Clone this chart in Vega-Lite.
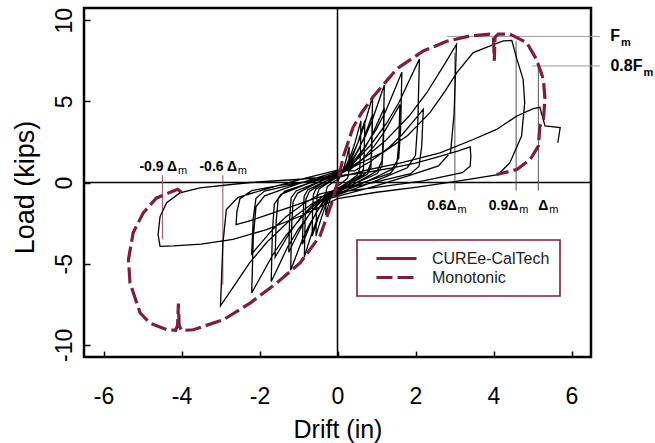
{
  "$schema": "https://vega.github.io/schema/vega-lite/v6.json",
  "width": 507,
  "height": 349,
  "autosize": {"type": "none"},
  "padding": {"left": 84, "top": 8, "right": 64, "bottom": 86},
  "background": "white",
  "config": {
    "view": {"stroke": "black", "strokeWidth": 2.5},
    "font": "Liberation Sans",
    "axis": {
      "grid": false, "domain": false, "ticks": true, "tickSize": -6, "tickColor": "black", "tickWidth": 1.5,
      "labelColor": "black", "labelFont": "Liberation Sans", "labelFontSize": 23,
      "titleFont": "Liberation Sans", "titleFontWeight": "normal", "titleColor": "black",
      "labelExpr": "'' + datum.value", "labelFlush": false, "labelOverlap": false
    }
  },
  "datasets": {
    "hyst": [
      {"x":0,"y":0},
      {"x":0.06,"y":0.35},{"x":0.12,"y":0.66},{"x":0.18,"y":1.06},{"x":0.225,"y":1.43},{"x":0.27,"y":1.89},{"x":0.3,"y":2.2},
      {"x":0.294,"y":1.1},{"x":0.285,"y":0.48},{"x":0.255,"y":0.26},{"x":0.18,"y":0.11},{"x":0.09,"y":-0.07},{"x":0,"y":-0.22},
      {"x":-0.06,"y":-0.32},{"x":-0.12,"y":-0.6},{"x":-0.18,"y":-0.96},{"x":-0.225,"y":-1.3},{"x":-0.27,"y":-1.72},{"x":-0.3,"y":-2.0},
      {"x":-0.294,"y":-1.0},{"x":-0.285,"y":-0.44},{"x":-0.255,"y":-0.24},{"x":-0.18,"y":-0.1},{"x":-0.09,"y":0.06},{"x":0,"y":0.2},
      {"x":0.12,"y":0.61},{"x":0.24,"y":1.14},{"x":0.36,"y":1.82},{"x":0.45,"y":2.47},{"x":0.54,"y":3.27},{"x":0.6,"y":3.8},
      {"x":0.588,"y":1.9},{"x":0.57,"y":0.84},{"x":0.51,"y":0.46},{"x":0.36,"y":0.19},{"x":0.18,"y":-0.11},{"x":0,"y":-0.38},
      {"x":-0.11,"y":-0.53},{"x":-0.22,"y":-0.99},{"x":-0.33,"y":-1.58},{"x":-0.41,"y":-2.15},{"x":-0.5,"y":-2.84},{"x":-0.55,"y":-3.3},
      {"x":-0.54,"y":-1.65},{"x":-0.52,"y":-0.73},{"x":-0.47,"y":-0.4},{"x":-0.33,"y":-0.17},{"x":-0.165,"y":0.1},{"x":0,"y":0.33},
      {"x":0.18,"y":0.85},{"x":0.36,"y":1.59},{"x":0.54,"y":2.54},{"x":0.675,"y":3.45},{"x":0.81,"y":4.56},{"x":0.9,"y":5.3},
      {"x":0.88,"y":2.65},{"x":0.855,"y":1.17},{"x":0.765,"y":0.64},{"x":0.54,"y":0.27},{"x":0.27,"y":-0.16},{"x":0,"y":-0.53},
      {"x":-0.17,"y":-0.74},{"x":-0.34,"y":-1.38},{"x":-0.51,"y":-2.21},{"x":-0.64,"y":-2.99},{"x":-0.77,"y":-3.96},{"x":-0.85,"y":-4.6},
      {"x":-0.83,"y":-2.3},{"x":-0.81,"y":-1.01},{"x":-0.72,"y":-0.55},{"x":-0.51,"y":-0.23},{"x":-0.255,"y":0.14},{"x":0,"y":0.46},
      {"x":0.14,"y":0.61},{"x":0.28,"y":1.14},{"x":0.42,"y":1.82},{"x":0.525,"y":2.47},{"x":0.63,"y":3.27},{"x":0.7,"y":3.8},
      {"x":0.686,"y":1.9},{"x":0.665,"y":0.84},{"x":0.595,"y":0.46},{"x":0.42,"y":0.19},{"x":0.21,"y":-0.11},{"x":0,"y":-0.38},
      {"x":-0.13,"y":-0.53},{"x":-0.26,"y":-0.99},{"x":-0.39,"y":-1.58},{"x":-0.49,"y":-2.15},{"x":-0.585,"y":-2.84},{"x":-0.65,"y":-3.3},
      {"x":-0.637,"y":-1.65},{"x":-0.618,"y":-0.73},{"x":-0.553,"y":-0.4},{"x":-0.39,"y":-0.17},{"x":-0.195,"y":0.1},{"x":0,"y":0.33},
      {"x":0.24,"y":0.96},{"x":0.48,"y":1.8},{"x":0.72,"y":2.88},{"x":0.9,"y":3.9},{"x":1.08,"y":5.16},{"x":1.2,"y":6.0},
      {"x":1.176,"y":3.0},{"x":1.14,"y":1.32},{"x":1.02,"y":0.72},{"x":0.72,"y":0.3},{"x":0.36,"y":-0.18},{"x":0,"y":-0.6},
      {"x":-0.24,"y":-0.86},{"x":-0.48,"y":-1.62},{"x":-0.72,"y":-2.59},{"x":-0.9,"y":-3.51},{"x":-1.08,"y":-4.64},{"x":-1.2,"y":-5.4},
      {"x":-1.176,"y":-2.7},{"x":-1.14,"y":-1.19},{"x":-1.02,"y":-0.65},{"x":-0.72,"y":-0.27},{"x":-0.36,"y":0.16},{"x":0,"y":0.54},
      {"x":0.18,"y":0.67},{"x":0.36,"y":1.26},{"x":0.54,"y":2.02},{"x":0.675,"y":2.73},{"x":0.81,"y":3.61},{"x":0.9,"y":4.2},
      {"x":0.88,"y":2.1},{"x":0.855,"y":0.92},{"x":0.765,"y":0.5},{"x":0.54,"y":0.21},{"x":0.27,"y":-0.13},{"x":0,"y":-0.42},
      {"x":-0.18,"y":-0.61},{"x":-0.36,"y":-1.14},{"x":-0.54,"y":-1.82},{"x":-0.675,"y":-2.47},{"x":-0.81,"y":-3.27},{"x":-0.9,"y":-3.8},
      {"x":-0.88,"y":-1.9},{"x":-0.855,"y":-0.84},{"x":-0.765,"y":-0.46},{"x":-0.54,"y":-0.19},{"x":-0.27,"y":0.11},{"x":0,"y":0.38},
      {"x":0.33,"y":1.09},{"x":0.66,"y":2.04},{"x":0.99,"y":3.26},{"x":1.24,"y":4.42},{"x":1.49,"y":5.85},{"x":1.65,"y":6.8},
      {"x":1.62,"y":3.4},{"x":1.57,"y":1.5},{"x":1.4,"y":0.82},{"x":0.99,"y":0.34},{"x":0.5,"y":-0.2},{"x":0,"y":-0.68},
      {"x":-0.34,"y":-0.98},{"x":-0.68,"y":-1.83},{"x":-1.02,"y":-2.93},{"x":-1.28,"y":-3.97},{"x":-1.53,"y":-5.25},{"x":-1.7,"y":-6.1},
      {"x":-1.67,"y":-3.05},{"x":-1.62,"y":-1.34},{"x":-1.45,"y":-0.73},{"x":-1.02,"y":-0.31},{"x":-0.51,"y":0.18},{"x":0,"y":0.61},
      {"x":0.24,"y":0.74},{"x":0.48,"y":1.38},{"x":0.72,"y":2.21},{"x":0.9,"y":2.99},{"x":1.08,"y":3.96},{"x":1.2,"y":4.6},
      {"x":1.176,"y":2.3},{"x":1.14,"y":1.01},{"x":1.02,"y":0.55},{"x":0.72,"y":0.23},{"x":0.36,"y":-0.14},{"x":0,"y":-0.46},
      {"x":-0.25,"y":-0.69},{"x":-0.5,"y":-1.29},{"x":-0.75,"y":-2.06},{"x":-0.94,"y":-2.8},{"x":-1.13,"y":-3.7},{"x":-1.25,"y":-4.3},
      {"x":-1.225,"y":-2.15},{"x":-1.19,"y":-0.95},{"x":-1.06,"y":-0.52},{"x":-0.75,"y":-0.22},{"x":-0.375,"y":0.13},{"x":0,"y":0.43},
      {"x":0.42,"y":1.22},{"x":0.84,"y":2.28},{"x":1.26,"y":3.65},{"x":1.58,"y":4.94},{"x":1.89,"y":6.54},{"x":2.1,"y":7.6},
      {"x":2.06,"y":3.8},{"x":2.0,"y":1.67},{"x":1.79,"y":0.91},{"x":1.26,"y":0.38},{"x":0.63,"y":-0.23},{"x":0,"y":-0.76},
      {"x":-0.44,"y":-1.09},{"x":-0.88,"y":-2.04},{"x":-1.32,"y":-3.26},{"x":-1.65,"y":-4.42},{"x":-1.98,"y":-5.85},{"x":-2.2,"y":-6.8},
      {"x":-2.16,"y":-3.4},{"x":-2.09,"y":-1.5},{"x":-1.87,"y":-0.82},{"x":-1.32,"y":-0.34},{"x":-0.66,"y":0.2},{"x":0,"y":0.68},
      {"x":0.32,"y":0.77},{"x":0.64,"y":1.44},{"x":0.96,"y":2.3},{"x":1.2,"y":3.12},{"x":1.44,"y":4.13},{"x":1.6,"y":4.8},
      {"x":1.57,"y":2.4},{"x":1.52,"y":1.06},{"x":1.36,"y":0.58},{"x":0.96,"y":0.24},{"x":0.48,"y":-0.14},{"x":0,"y":-0.48},
      {"x":-0.32,"y":-0.74},{"x":-0.64,"y":-1.38},{"x":-0.96,"y":-2.21},{"x":-1.2,"y":-2.99},{"x":-1.44,"y":-3.96},{"x":-1.6,"y":-4.6},
      {"x":-1.57,"y":-2.3},{"x":-1.52,"y":-1.01},{"x":-1.36,"y":-0.55},{"x":-0.96,"y":-0.23},{"x":-0.48,"y":0.14},{"x":0,"y":0.46},
      {"x":0.61,"y":1.36},{"x":1.22,"y":2.55},{"x":1.83,"y":4.08},{"x":2.29,"y":5.53},{"x":2.75,"y":7.31},{"x":3.05,"y":8.5},
      {"x":2.99,"y":4.25},{"x":2.9,"y":1.87},{"x":2.59,"y":1.02},{"x":1.83,"y":0.43},{"x":0.92,"y":-0.26},{"x":0,"y":-0.85},
      {"x":-0.6,"y":-1.22},{"x":-1.2,"y":-2.28},{"x":-1.8,"y":-3.65},{"x":-2.25,"y":-4.94},{"x":-2.7,"y":-6.54},{"x":-3.0,"y":-7.6},
      {"x":-2.94,"y":-3.8},{"x":-2.85,"y":-1.67},{"x":-2.55,"y":-0.91},{"x":-1.8,"y":-0.38},{"x":-0.9,"y":0.23},{"x":0,"y":0.76},
      {"x":0.44,"y":0.72},{"x":0.88,"y":1.35},{"x":1.32,"y":2.16},{"x":1.65,"y":2.93},{"x":1.98,"y":3.87},{"x":2.2,"y":4.5},
      {"x":2.16,"y":2.25},{"x":2.09,"y":0.99},{"x":1.87,"y":0.54},{"x":1.32,"y":0.23},{"x":0.66,"y":-0.14},{"x":0,"y":-0.45},
      {"x":-0.44,"y":-0.7},{"x":-0.88,"y":-1.32},{"x":-1.32,"y":-2.11},{"x":-1.65,"y":-2.86},{"x":-1.98,"y":-3.78},{"x":-2.2,"y":-4.4},
      {"x":-2.16,"y":-2.2},{"x":-2.09,"y":-0.97},{"x":-1.87,"y":-0.53},{"x":-1.32,"y":-0.22},{"x":-0.66,"y":0.13},{"x":0,"y":0.44},
      {"x":0.6,"y":1.2},{"x":1.2,"y":1.9},{"x":1.8,"y":2.9},{"x":2.37,"y":4.3},{"x":2.75,"y":5.6},{"x":3.06,"y":6.77},{"x":3.48,"y":8.0},{"x":4.0,"y":8.5},{"x":4.25,"y":8.72},{"x":4.47,"y":8.75},
      {"x":4.6,"y":7.6},{"x":4.76,"y":6.36},{"x":4.8,"y":4.92},{"x":4.72,"y":2.86},{"x":4.42,"y":1.22},{"x":4.12,"y":0.49},{"x":3.0,"y":0.05},{"x":2.0,"y":-0.3},{"x":1.0,"y":-0.6},{"x":0,"y":-1.0},
      {"x":-0.96,"y":-2.08},{"x":-1.82,"y":-2.9},{"x":-2.68,"y":-3.5},{"x":-3.5,"y":-3.8},{"x":-4.2,"y":-3.9},{"x":-4.55,"y":-3.93},
      {"x":-4.6,"y":-3.2},{"x":-4.55,"y":-2.1},{"x":-4.38,"y":-1.25},{"x":-4.04,"y":-0.64},{"x":-3.53,"y":-0.33},{"x":-2.24,"y":0.0},{"x":-0.96,"y":0.2},{"x":0,"y":0.4},
      {"x":0.7,"y":0.6},{"x":1.4,"y":0.9},{"x":2.0,"y":1.2},{"x":2.6,"y":1.6},{"x":3.1,"y":1.95},{"x":3.4,"y":2.2},
      {"x":3.42,"y":1.6},{"x":3.4,"y":1.0},{"x":3.2,"y":0.6},{"x":2.2,"y":0.1},{"x":1.0,"y":-0.3},{"x":0,"y":-0.6},
      {"x":-0.6,"y":-1.0},{"x":-1.2,"y":-1.5},{"x":-1.8,"y":-2.0},{"x":-2.3,"y":-2.4},{"x":-2.6,"y":-2.6},
      {"x":-2.58,"y":-1.8},{"x":-2.5,"y":-1.0},{"x":-2.2,"y":-0.5},{"x":-1.4,"y":-0.15},{"x":-0.6,"y":0.1},{"x":0,"y":0.3},
      {"x":0.8,"y":0.8},{"x":1.6,"y":1.2},{"x":2.63,"y":1.83},{"x":3.48,"y":2.65},{"x":4.08,"y":3.27},{"x":4.6,"y":4.1},{"x":5.02,"y":4.55},{"x":5.19,"y":4.63},{"x":5.32,"y":3.48},{"x":5.71,"y":3.38},{"x":5.65,"y":2.45}
    ],
    "env": [
      {"x":-4.0,"y":-0.6,"s":"Monotonic"},{"x":-4.1,"y":-0.42,"s":"Monotonic"},{"x":-4.64,"y":-0.95,"s":"Monotonic"},{"x":-4.98,"y":-1.87,"s":"Monotonic"},
      {"x":-5.24,"y":-3.1,"s":"Monotonic"},{"x":-5.36,"y":-4.75,"s":"Monotonic"},{"x":-5.32,"y":-6.19,"s":"Monotonic"},{"x":-5.06,"y":-8.04,"s":"Monotonic"},
      {"x":-4.81,"y":-8.66,"s":"Monotonic"},{"x":-4.38,"y":-9.07,"s":"Monotonic"},{"x":-4.15,"y":-9.1,"s":"Monotonic"},{"x":-4.1,"y":-8.8,"s":"Monotonic"},
      {"x":-4.08,"y":-7.45,"s":"Monotonic"},{"x":-4.06,"y":-8.8,"s":"Monotonic"},{"x":-4.0,"y":-9.12,"s":"Monotonic"},{"x":-3.7,"y":-9.07,"s":"Monotonic"},
      {"x":-2.93,"y":-8.46,"s":"Monotonic"},{"x":-2.24,"y":-7.43,"s":"Monotonic"},{"x":-1.56,"y":-6.19,"s":"Monotonic"},{"x":-0.96,"y":-4.96,"s":"Monotonic"},
      {"x":-0.45,"y":-3.3,"s":"Monotonic"},{"x":-0.15,"y":-1.3,"s":"Monotonic"},{"x":0,"y":0,"s":"Monotonic"},{"x":0.15,"y":1.6,"s":"Monotonic"},
      {"x":0.4,"y":3.4,"s":"Monotonic"},{"x":0.62,"y":4.3,"s":"Monotonic"},{"x":0.92,"y":5.3,"s":"Monotonic"},{"x":1.52,"y":7.0,"s":"Monotonic"},
      {"x":2.2,"y":8.1,"s":"Monotonic"},{"x":2.8,"y":8.7,"s":"Monotonic"},{"x":3.4,"y":9.03,"s":"Monotonic"},{"x":3.92,"y":9.14,"s":"Monotonic"},
      {"x":4.0,"y":8.95,"s":"Monotonic"},{"x":4.02,"y":7.5,"s":"Monotonic"},{"x":4.04,"y":8.95,"s":"Monotonic"},{"x":4.12,"y":9.14,"s":"Monotonic"},
      {"x":4.42,"y":9.14,"s":"Monotonic"},{"x":4.85,"y":8.62,"s":"Monotonic"},{"x":5.1,"y":7.6,"s":"Monotonic"},{"x":5.28,"y":6.36,"s":"Monotonic"},
      {"x":5.32,"y":5.12,"s":"Monotonic"},{"x":5.28,"y":3.9,"s":"Monotonic"},{"x":5.19,"y":3.47,"s":"Monotonic"},{"x":5.15,"y":2.24,"s":"Monotonic"},
      {"x":4.94,"y":1.42,"s":"Monotonic"},{"x":4.6,"y":0.8,"s":"Monotonic"},{"x":4.08,"y":0.49,"s":"Monotonic"}
    ],
    "refLight": [
      {"x":2.8,"x2":6.73,"y":9.0,"y2":9.0},
      {"x":4.98,"x2":6.73,"y":7.18,"y2":7.18}
    ],
    "refDark": [
      {"x":3.01,"x2":3.01,"y":8.0,"y2":-0.5},
      {"x":4.58,"x2":4.58,"y":8.7,"y2":-0.5},
      {"x":5.15,"x2":5.15,"y":7.4,"y2":-0.5}
    ],
    "refMaroon": [
      {"x":-4.49,"x2":-4.49,"y":0.45,"y2":-3.5},
      {"x":-2.94,"x2":-2.94,"y":0.45,"y2":-6.3}
    ],
    "labels": [
      {"x":-4.115,"y":0.7,"t":"-0.9 Δ","k":"d"},
      {"x":-2.577,"y":0.7,"t":"-0.6 Δ","k":"d"},
      {"x":3.056,"y":-1.667,"t":"0.6Δ","k":"d"},
      {"x":4.636,"y":-1.667,"t":"0.9Δ","k":"d"},
      {"x":5.405,"y":-1.667,"t":"Δ","k":"d"},
      {"x":-4.09,"y":0.52,"t":"m","k":"ds"},
      {"x":-2.56,"y":0.52,"t":"m","k":"ds"},
      {"x":3.08,"y":-1.87,"t":"m","k":"ds"},
      {"x":4.66,"y":-1.87,"t":"m","k":"ds"},
      {"x":5.43,"y":-1.87,"t":"m","k":"ds"},
      {"x":7.244,"y":8.72,"t":"F","k":"f"},
      {"x":7.82,"y":6.87,"t":"0.8F","k":"f"},
      {"x":7.27,"y":8.43,"t":"m","k":"fs"},
      {"x":7.845,"y":6.57,"t":"m","k":"fs"}
    ]
  },
  "layer": [
    {
      "data": {"values": [{"x": 0}]},
      "mark": {"type": "rule", "color": "black", "strokeWidth": 1.5},
      "encoding": {
        "x": {"field": "x", "type": "quantitative", "scale": {"domain": [-6.5, 6.5], "nice": false, "zero": false},
          "axis": {"values": [-6, -4, -2, 0, 2, 4, 6], "labelPadding": 34, "title": "Drift (in)", "titleFontSize": 25, "titleY": 80, "titleBaseline": "alphabetic"}}
      }
    },
    {
      "data": {"values": [{"y": 0}]},
      "mark": {"type": "rule", "color": "black", "strokeWidth": 1.5},
      "encoding": {
        "y": {"field": "y", "type": "quantitative", "scale": {"domain": [-10.75, 10.75], "nice": false, "zero": false},
          "axis": {"values": [-10, -5, 0, 5, 10], "labelAngle": -90, "labelAlign": "center", "labelBaseline": "alphabetic", "labelPadding": 19,
            "title": "Load (kips)", "titleFontSize": 27, "titleX": -51, "titleY": 179, "titleAngle": -90, "titleBaseline": "alphabetic", "titleAlign": "center"}}
      }
    },
    {
      "data": {"name": "refLight"},
      "mark": {"type": "rule", "color": "#9a9a9a", "strokeWidth": 1, "clip": false},
      "encoding": {
        "x": {"field": "x", "type": "quantitative", "scale": {"domain": [-6.5, 6.5], "nice": false, "zero": false}},
        "x2": {"field": "x2"},
        "y": {"field": "y", "type": "quantitative", "scale": {"domain": [-10.75, 10.75], "nice": false, "zero": false}},
        "y2": {"field": "y2"}
      }
    },
    {
      "data": {"name": "refDark"},
      "mark": {"type": "rule", "color": "#555555", "strokeWidth": 1},
      "encoding": {
        "x": {"field": "x", "type": "quantitative", "scale": {"domain": [-6.5, 6.5], "nice": false, "zero": false}},
        "x2": {"field": "x2"},
        "y": {"field": "y", "type": "quantitative", "scale": {"domain": [-10.75, 10.75], "nice": false, "zero": false}},
        "y2": {"field": "y2"}
      }
    },
    {
      "data": {"name": "refMaroon"},
      "mark": {"type": "rule", "color": "#9b4a5e", "strokeWidth": 1},
      "encoding": {
        "x": {"field": "x", "type": "quantitative", "scale": {"domain": [-6.5, 6.5], "nice": false, "zero": false}},
        "x2": {"field": "x2"},
        "y": {"field": "y", "type": "quantitative", "scale": {"domain": [-10.75, 10.75], "nice": false, "zero": false}},
        "y2": {"field": "y2"}
      }
    },
    {
      "data": {"name": "hyst"},
      "mark": {"type": "line", "color": "black", "strokeWidth": 1.3},
      "encoding": {
        "x": {"field": "x", "type": "quantitative", "scale": {"domain": [-6.5, 6.5], "nice": false, "zero": false}},
        "y": {"field": "y", "type": "quantitative", "scale": {"domain": [-10.75, 10.75], "nice": false, "zero": false}},
        "order": {"value": null}
      }
    },
    {
      "data": {"name": "env"},
      "mark": {"type": "line", "color": "#7f1d3f", "strokeWidth": 3.2},
      "encoding": {
        "x": {"field": "x", "type": "quantitative", "scale": {"domain": [-6.5, 6.5], "nice": false, "zero": false}},
        "y": {"field": "y", "type": "quantitative", "scale": {"domain": [-10.75, 10.75], "nice": false, "zero": false}},
        "order": {"value": null},
        "strokeDash": {"field": "s", "type": "nominal",
          "scale": {"domain": ["CUREe-CalTech", "Monotonic"], "range": [[1, 0], [16, 5]]},
          "legend": {"title": null, "orient": "none", "legendX": 273, "legendY": 232, "padding": 10,
            "strokeColor": "#7f1d3f",
            "symbolType": "M-2.86,0H2.86", "symbolSize": 196, "symbolStrokeWidth": 3, "symbolStrokeColor": "#7f1d3f", "symbolFillColor": "transparent",
            "symbolOffset": 21, "labelOffset": 27, "labelFontSize": 16, "labelFont": "Liberation Sans", "labelColor": "#222222",
            "rowPadding": 2, "labelExpr": "datum.label + '\u00a0\u00a0\u00a0\u00a0\u00a0\u00a0'",
            "encode": {"legend": {"update": {"strokeWidth": {"value": 1.6}}}}}}
      }
    },
    {
      "data": {"name": "labels"},
      "transform": [{"filter": "datum.k == 'd'"}],
      "mark": {"type": "text", "font": "Liberation Sans", "fontWeight": "bold", "fontSize": 14, "align": "right", "baseline": "alphabetic", "color": "black"},
      "encoding": {
        "x": {"field": "x", "type": "quantitative", "scale": {"domain": [-6.5, 6.5], "nice": false, "zero": false}},
        "y": {"field": "y", "type": "quantitative", "scale": {"domain": [-10.75, 10.75], "nice": false, "zero": false}},
        "text": {"field": "t"}
      }
    },
    {
      "data": {"name": "labels"},
      "transform": [{"filter": "datum.k == 'ds'"}],
      "mark": {"type": "text", "font": "Liberation Sans", "fontWeight": "normal", "fontSize": 11, "align": "left", "baseline": "alphabetic", "color": "black"},
      "encoding": {
        "x": {"field": "x", "type": "quantitative", "scale": {"domain": [-6.5, 6.5], "nice": false, "zero": false}},
        "y": {"field": "y", "type": "quantitative", "scale": {"domain": [-10.75, 10.75], "nice": false, "zero": false}},
        "text": {"field": "t"}
      }
    },
    {
      "data": {"name": "labels"},
      "transform": [{"filter": "datum.k == 'f'"}],
      "mark": {"type": "text", "font": "Liberation Sans", "fontWeight": "bold", "fontSize": 16, "align": "right", "baseline": "alphabetic", "color": "black"},
      "encoding": {
        "x": {"field": "x", "type": "quantitative", "scale": {"domain": [-6.5, 6.5], "nice": false, "zero": false}},
        "y": {"field": "y", "type": "quantitative", "scale": {"domain": [-10.75, 10.75], "nice": false, "zero": false}},
        "text": {"field": "t"}
      }
    },
    {
      "data": {"name": "labels"},
      "transform": [{"filter": "datum.k == 'fs'"}],
      "mark": {"type": "text", "font": "Liberation Sans", "fontWeight": "bold", "fontSize": 11, "align": "left", "baseline": "alphabetic", "color": "black"},
      "encoding": {
        "x": {"field": "x", "type": "quantitative", "scale": {"domain": [-6.5, 6.5], "nice": false, "zero": false}},
        "y": {"field": "y", "type": "quantitative", "scale": {"domain": [-10.75, 10.75], "nice": false, "zero": false}},
        "text": {"field": "t"}
      }
    }
  ]
}
